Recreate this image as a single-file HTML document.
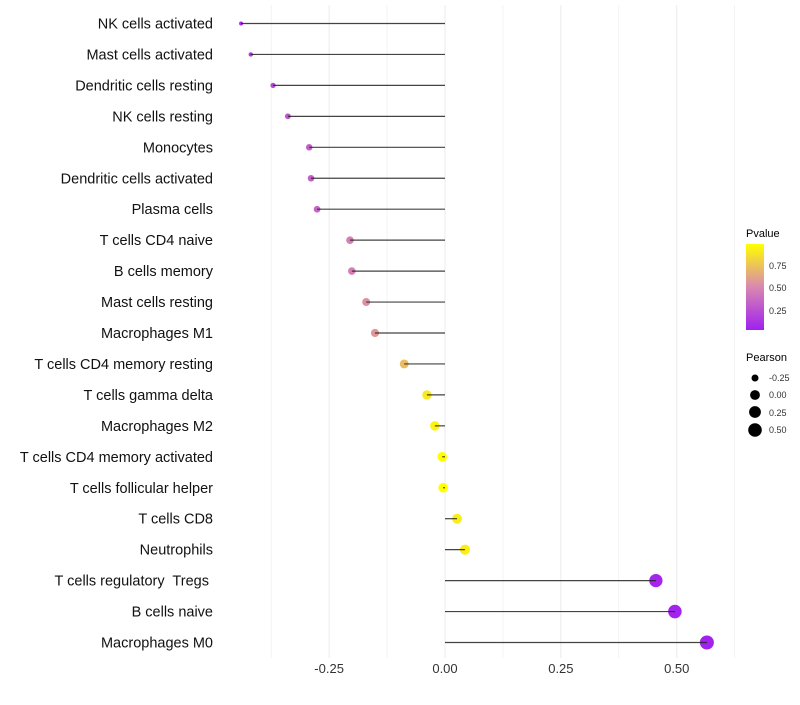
<!DOCTYPE html>
<html><head><meta charset="utf-8"><style>
body{margin:0;background:#fff;font-family:"Liberation Sans",sans-serif;}
svg text{font-family:"Liberation Sans",sans-serif;white-space:pre;}
</style></head><body>
<svg id="chart" width="800" height="700" xmlns="http://www.w3.org/2000/svg">
<defs><linearGradient id="pg" x1="0" y1="1" x2="0" y2="0">
<stop offset="0" stop-color="#a020f0"/><stop offset="0.5" stop-color="#d988b0"/><stop offset="1" stop-color="#ffff00"/></linearGradient></defs>
<g id="grid"></g><g id="marks"></g><g id="axes"></g>
<g>
<text x="746" y="237" font-size="11" fill="#000">Pvalue</text>
<rect x="746" y="244" width="18" height="86" fill="url(#pg)"/>
<text x="769" y="269" font-size="9" fill="#333">0.75</text>
<text x="769" y="291" font-size="9" fill="#333">0.50</text>
<text x="769" y="314" font-size="9" fill="#333">0.25</text>
</g>
<g>
<text x="746" y="361" font-size="11" fill="#000">Pearson</text>
<circle cx="755" cy="378" r="3.5"/><text x="769" y="381" font-size="9" fill="#333">-0.25</text>
<circle cx="755" cy="395" r="4.9"/><text x="769" y="398" font-size="9" fill="#333">0.00</text>
<circle cx="755" cy="412" r="5.9"/><text x="769" y="416" font-size="9" fill="#333">0.25</text>
<circle cx="755" cy="430" r="6.8"/><text x="769" y="433" font-size="9" fill="#333">0.50</text>
</g>
</svg>
<script>
const categories=["NK cells activated","Mast cells activated","Dendritic cells resting","NK cells resting","Monocytes","Dendritic cells activated","Plasma cells","T cells CD4 naive","B cells memory","Mast cells resting","Macrophages M1","T cells CD4 memory resting","T cells gamma delta","Macrophages M2","T cells CD4 memory activated","T cells follicular helper","T cells CD8","Neutrophils","T cells regulatory  Tregs ","B cells naive","Macrophages M0"];
const pearson=[-0.44,-0.419,-0.371,-0.339,-0.293,-0.289,-0.276,-0.205,-0.201,-0.170,-0.151,-0.088,-0.039,-0.022,-0.006,-0.004,0.026,0.043,0.455,0.496,0.565];
const pvalue=[0.05,0.12,0.2,0.25,0.3,0.3,0.32,0.45,0.45,0.52,0.55,0.7,0.88,0.92,0.97,0.97,0.9,0.9,0.03,0.02,0.01];
const xTicks=[-0.25,0,0.25,0.5];
const xTickLabels=["-0.25","0.00","0.25","0.50"];
const NS="http://www.w3.org/2000/svg";
const x=v=>445+v*463.5;
const y=i=>23.5+i*30.95;
function mk(t,a,p){const e=document.createElementNS(NS,t);for(const k in a)e.setAttribute(k,a[k]);p.appendChild(e);return e;}
function lerp(a,b,t){return a.map((v,i)=>Math.round(v+(b[i]-v)*t));}
function col(p){const t=Math.max(0,Math.min(1,(p-0.0)/0.97));const c=t<0.5?lerp([160,32,240],[217,136,176],t*2):lerp([217,136,176],[255,255,0],(t-0.5)*2);return `rgb(${c})`;}
const grid=document.getElementById('grid'),marks=document.getElementById('marks'),axes=document.getElementById('axes');
for(let v=-0.375;v<=0.63;v+=0.125){const g=mk('line',{x1:x(v),x2:x(v),y1:5,y2:658,stroke:'#ebebeb','stroke-width':Math.abs(v/0.25-Math.round(v/0.25))<1e-6?1:0.6},grid);

}
xTicks.forEach((v,i)=>{const t=mk('text',{x:x(v),y:673,'font-size':13,fill:'#333','text-anchor':'middle'},axes);t.textContent=xTickLabels[i];

});
categories.forEach((c,i)=>{
const t=mk('text',{x:213,y:y(i)+5,'font-size':14.5,fill:'#111','text-anchor':'end'},axes);t.textContent=c;


const v=pearson[i];
const r=Math.sqrt(Math.max(1,4+44.8*(v+0.44)));
const d=mk('circle',{cx:x(v),cy:y(i),r:r,fill:col(pvalue[i])},marks);


const l=mk('line',{x1:x(0),x2:x(v),y1:y(i),y2:y(i),stroke:'#222','stroke-width':1.2,'stroke-opacity':0.85},marks);


});
</script>
</body></html>
